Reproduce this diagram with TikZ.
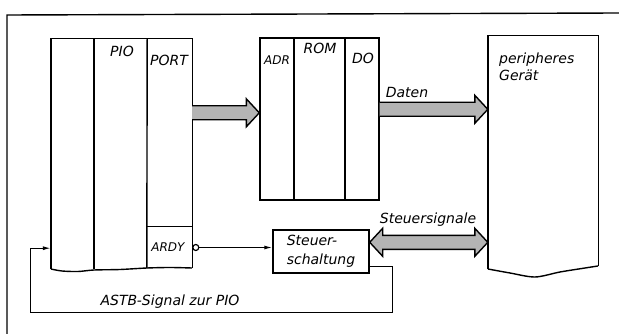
\documentclass[tikz,border=0pt]{standalone}
\usepackage{fontspec}
\setmainfont{DejaVu Sans}
\usetikzlibrary{arrows.meta,positioning,calc}
\definecolor{bus}{HTML}{B4B4B4}
\tikzset{
  colbox/.style={rectangle, draw=none, inner sep=0pt, minimum width=#1},
  box/.style={rectangle, draw, line width=1.4pt, inner sep=0pt},
  lbl/.style={font=\fontsize{14}{17}\selectfont\itshape, inner sep=0pt},
  slbl/.style={font=\fontsize{12}{14}\selectfont\itshape, inner sep=0pt},
  sig/.style={-{Latex[length=8pt,width=4pt]}, line width=1.2pt},
  fat/.style={draw, line width=1.4pt, fill=bus, line join=miter},
  outline/.style={line width=1.4pt},
}
% fat bus arrows, horizontal, from #1 to #2
\newcommand{\busarrow}[2]{%
  \draw[fat] let \p1=(#1), \p2=(#2) in
    (\x1,\y1+7) -- (\x2-13,\y1+7) -- (\x2-13,\y1+14) -- (\x2,\y1)
    -- (\x2-13,\y1-14) -- (\x2-13,\y1-7) -- (\x1,\y1-7);}
\newcommand{\busboth}[2]{%
  \draw[fat] let \p1=(#1), \p2=(#2) in
    (\x1,\y1) -- (\x1+13,\y1+14) -- (\x1+13,\y1+7) -- (\x2-13,\y1+7)
    -- (\x2-13,\y1+14) -- (\x2,\y1) -- (\x2-13,\y1-14) -- (\x2-13,\y1-7)
    -- (\x1+13,\y1-7) -- (\x1+13,\y1-14) -- cycle;}

\begin{document}
\begin{tikzpicture}[x=1pt,y=-1pt]
  \useasboundingbox (0,0) rectangle (619,334);
  \draw[outline] (7,334) -- (7,15) -- (619,13);

  % PIO
  \node[colbox=43, minimum height=230] (col1) at (72.5,154) {};
  \node[colbox=53, minimum height=230] (pio) at (120.5,154) {};
  \node[colbox=45, minimum height=188] (port) at (169.5,133) {};
  \node[colbox=45, minimum height=41] (ardy) at (169.5,247.5) {};
  \draw[outline] (col1.south west) -- (col1.north west) -- (port.north east) -- (ardy.south east);
  \draw[outline] (pio.north west) -- (pio.south west);
  \draw[outline] (pio.north east) -- (ardy.south west);
  \draw[outline] (ardy.north west) -- (ardy.north east);
  \draw[outline] plot[smooth] coordinates {(51,269) (62,271) (78,271.5) (94,270) (120,269.5) (147,268) (170,267.5) (192,268)};
  \node[lbl] (piolbl) at (122,51) {PIO};
  \node[lbl] (portlbl) at (169,60) {PORT};
  \node[slbl] (ardylbl) at (168,247) {ARDY};

  % ROM
  \node[box, minimum width=34, minimum height=162] (adr) at (277,119) {};
  \node[box, minimum width=51, minimum height=162] (rom) at (319.5,119) {};
  \node[box, minimum width=34, minimum height=162] (do) at (362,119) {};
  \node[slbl] (adrlbl) at (277,60) {ADR};
  \node[lbl] (romlbl) at (320,48) {ROM};
  \node[lbl] (dolbl) at (363,58) {DO};

  % Steuerschaltung
  \node[box, minimum width=96, minimum height=43, align=left,
        font=\fontsize{14}{19}\selectfont\itshape] (steuer) at (321,251.5) {Steuer-\\schaltung};

  % peripheres Geraet
  \node[colbox=110, minimum height=233] (geraet) at (543,152.5) {};
  \draw[outline] (geraet.south west) -- (geraet.north west) -- (geraet.north east) -- ($(geraet.south east)+(0,-3)$);
  \draw[outline] plot[smooth] coordinates {(488,269) (510,273) (535,277) (560,272) (585,268) (598,266)};
  \node[lbl, align=left, anchor=north west] (geraetlbl) at (499,53) {peripheres\\Gerät};

  % Busse
  \coordinate (a1) at ($(port.north east)+(0,74)$);
  \busarrow{a1}{a1 -| adr.west}
  \coordinate (a2) at ($(do.north east)+(0,72)$);
  \busarrow{a2}{a2 -| geraet.west}
  \coordinate (a3) at ($(steuer.north east)+(0,13)$);
  \busboth{a3}{a3 -| geraet.west}
  \node[lbl] (datenlbl) at (407,92) {Daten};
  \node[lbl] (steuerslbl) at (428,220) {Steuersignale};

  % Signale
  \node[circle, draw, line width=1.2pt, inner sep=0pt, minimum size=6, fill=white, anchor=west] (inv) at (ardy.east) {};
  \draw[sig] (inv.east) -- (inv.east -| steuer.west);
  \coordinate (r0) at ($(steuer.south east)+(0,-7)$);
  \coordinate (r1) at ($(col1.south west)+(0,-21)$);
  \draw[sig] (r0) -- ++(23,0) |- ($(r1)+(-20,64)$) |- (r1);
  \node[lbl] (astb) at (170,302) {ASTB-Signal zur PIO};
\end{tikzpicture}
\end{document}
